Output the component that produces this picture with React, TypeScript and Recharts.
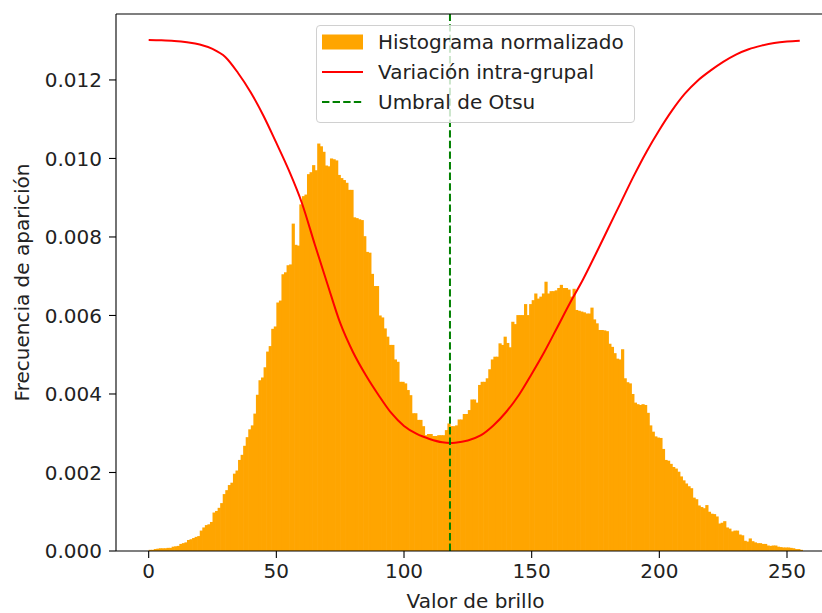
import React from 'react';
import { ComposedChart, Bar, Line, XAxis, YAxis, ReferenceLine, Legend } from 'recharts';

// Histogram: 256 bins of width 1 starting at 0 (normalized frequency)
const binStart = 0;
const binWidth = 1;
const histValues = [
  0.00003, 0.00003, 0.00005, 0.00006, 0.00007, 0.00007, 0.00007, 0.00008, 0.00008, 0.00011,
  0.00012, 0.00013, 0.00018, 0.0002, 0.00022, 0.00028, 0.0003, 0.00033, 0.00036, 0.00038,
  0.00052, 0.0006, 0.00066, 0.00068, 0.00074, 0.00098, 0.00102, 0.0011, 0.00122, 0.00145,
  0.00155, 0.00168, 0.00174, 0.00197, 0.00205, 0.00232, 0.00245, 0.00268, 0.0029, 0.0031,
  0.0032, 0.0035, 0.00398, 0.00435, 0.00442, 0.00468, 0.00508, 0.00522, 0.00566, 0.00572,
  0.00633, 0.00638, 0.00705, 0.0071, 0.00728, 0.0073, 0.00834, 0.0078, 0.00778, 0.00883,
  0.00904, 0.00908, 0.0096, 0.00965, 0.00983, 0.0097, 0.01038, 0.01031, 0.01017, 0.00982,
  0.0098, 0.01, 0.00998, 0.00995, 0.00958, 0.0095, 0.00945, 0.00938, 0.0092, 0.0092,
  0.0085, 0.00848, 0.00845, 0.00843, 0.00802, 0.00762, 0.0076, 0.00706, 0.00675, 0.00675,
  0.006, 0.00595, 0.00567, 0.00546, 0.00525, 0.00525, 0.00488, 0.00482, 0.00431, 0.00431,
  0.00427, 0.0041, 0.00397, 0.00351, 0.00351, 0.00334, 0.00334, 0.00318, 0.00295, 0.00298,
  0.00298, 0.00293, 0.00293, 0.00295, 0.00295, 0.00295, 0.00308, 0.00325, 0.00318, 0.00318,
  0.0032, 0.00335, 0.00335, 0.00349, 0.00349, 0.00359, 0.00386, 0.00386, 0.00378, 0.00423,
  0.00431, 0.00431, 0.0044, 0.00463, 0.00488, 0.00495, 0.00495, 0.00529, 0.00525, 0.00546,
  0.0053, 0.00519, 0.00584, 0.00578, 0.00601, 0.00601, 0.00601, 0.00629, 0.00601, 0.00629,
  0.00639, 0.00656, 0.00643, 0.00648, 0.00656, 0.00686, 0.00656, 0.00662, 0.00662, 0.00664,
  0.0067, 0.00678, 0.0067, 0.0067, 0.00666, 0.00648, 0.00668, 0.00614, 0.00612, 0.0061,
  0.00608, 0.00605, 0.00605, 0.0062, 0.0059, 0.0058, 0.00563, 0.00563, 0.00562, 0.0056,
  0.00528, 0.0052, 0.00504, 0.0049, 0.00488, 0.00514, 0.0044, 0.0043, 0.00427, 0.004,
  0.00378, 0.00374, 0.00372, 0.00374, 0.00372, 0.00352, 0.0032, 0.00304, 0.00292, 0.00289,
  0.00288, 0.0026, 0.00232, 0.0023, 0.00222, 0.00214, 0.0021, 0.00202, 0.0019, 0.0018,
  0.00172, 0.00165, 0.0016, 0.00136, 0.00132, 0.00116, 0.00112, 0.00109, 0.00117, 0.001,
  0.00095, 0.00094, 0.00088, 0.0007, 0.00072, 0.00076, 0.0006, 0.00057, 0.0005, 0.00052,
  0.00052, 0.00042, 0.0004, 0.00026, 0.00024, 0.00032, 0.00025, 0.00022, 0.0002, 0.0002,
  0.00018, 0.00018, 0.00014, 0.00013, 0.00014, 0.00014, 0.00011, 0.0001, 0.00009, 0.00009,
  0.00009, 0.00008, 0.00007, 0.00005, 0.00005, 0.00003,
];

// Within-class variance curve (scaled), read at sample brightness values
const curveX = [
  0, 5, 10, 15, 20, 25, 30, 35, 40, 45, 50, 55, 60, 65, 70, 75, 80, 85, 90, 95, 100, 105, 110,
  115, 118, 120, 125, 130, 135, 140, 145, 150, 155, 160, 165, 170, 175, 180, 185, 190, 195, 200,
  205, 210, 215, 220, 225, 230, 235, 240, 245, 250, 255,
];
const curveY = [
  0.013019, 0.013011, 0.012994, 0.01296, 0.012904, 0.01279, 0.012586, 0.012178, 0.011682,
  0.011083, 0.010395, 0.009682, 0.008866, 0.007822, 0.006803, 0.005809, 0.00507, 0.004484,
  0.003975, 0.003516, 0.003185, 0.002981, 0.002854, 0.002769, 0.002752, 0.002759, 0.002815,
  0.002943, 0.003197, 0.003541, 0.003975, 0.00451, 0.005076, 0.005694, 0.006318, 0.006904,
  0.007554, 0.008221, 0.008889, 0.009556, 0.010173, 0.010726, 0.011225, 0.011651, 0.011982,
  0.012237, 0.012461, 0.012647, 0.012782, 0.012874, 0.012943, 0.012981, 0.013001,
];

const otsuThreshold = 118;

const xTicks = [0, 50, 100, 150, 200, 250];
const yTicks = [0, 0.002, 0.004, 0.006, 0.008, 0.01, 0.012];
const xDomain = [-12.8, 268.8];
const yDomain = [0, 0.01368];

const legendLabels = ['Histograma normalizado', 'Variación intra-grupal', 'Umbral de Otsu'];
const xLabel = 'Valor de brillo';
const yLabel = 'Frecuencia de aparición';

const histData = histValues.map((v, i) => ({ x: binStart + (i + 0.5) * binWidth, h: v }));
const curveData = curveX.map((x, i) => ({ x, v: curveY[i] }));

const FONT = '"DejaVu Sans", sans-serif';
const TEXT = '#222';
const ORANGE = '#FFA500';
const RED = '#FF0000';
const GREEN = '#008000';

const tickStyle = { fontSize: 20, fill: TEXT, fontFamily: FONT };

const LegendBox = () => {
  const rows = [42 - 25, 72 - 25, 102 - 25];
  return (
    <div
      style={{
        position: 'relative',
        width: 319,
        height: 98,
        boxSizing: 'border-box',
        border: '1px solid #d0d0d0',
        borderRadius: 4,
        background: 'rgba(255,255,255,0.8)',
        fontFamily: FONT,
        fontSize: 20,
        color: TEXT,
      }}
    >
      <svg width={319} height={98} style={{ position: 'absolute', left: -1, top: -1 }}>
        <rect x={6} y={rows[0] - 7.5} width={41} height={15} fill={ORANGE} />
        <line x1={6} x2={47} y1={rows[1]} y2={rows[1]} stroke={RED} strokeWidth={2} />
        <line x1={6} x2={47} y1={rows[2]} y2={rows[2]} stroke={GREEN} strokeWidth={2} strokeDasharray="7.4 3.2" />
        {legendLabels.map((l, i) => (
          <text key={l} x={62} y={rows[i]} dy="0.36em" fontSize={20} fontFamily={FONT} fill={TEXT}>
            {l}
          </text>
        ))}
      </svg>
    </div>
  );
};

const YLabel = (props: any) => {
  const vb = props.viewBox || {};
  const cx = (vb.x || 0) + 29;
  const cy = (vb.y || 0) + (vb.height || 0) / 2;
  return (
    <text x={cx} y={cy} transform={`rotate(-90, ${cx}, ${cy})`} textAnchor="middle" fontSize={20} fontFamily={FONT} fill={TEXT}>
      {yLabel}
    </text>
  );
};

const XLabel = (props: any) => {
  const vb = props.viewBox || {};
  const cx = (vb.x || 0) + (vb.width || 0) / 2;
  const cy = (vb.y || 0) + 57;
  return (
    <text x={cx} y={cy} textAnchor="middle" fontSize={20} fontFamily={FONT} fill={TEXT}>
      {xLabel}
    </text>
  );
};

const HistBar = (p: any) => (
  <rect x={p.x} y={p.y} width={Math.max(0, p.width + 0.7)} height={Math.max(0, p.height)} fill={ORANGE} />
);

export default function App() {
  return (
    <div style={{ position: 'absolute', left: 0, top: 0, width: 822, height: 613, overflow: 'hidden', background: '#fff' }}>
      <ComposedChart
        width={835}
        height={613}
        data={histData}
        margin={{ top: 14, right: 0, bottom: 0, left: 0 }}
        barCategoryGap={0}
        barGap={0}
        style={{ fontFamily: FONT }}
      >
        <XAxis
          xAxisId="main"
          dataKey="x"
          type="number"
          domain={xDomain}
          ticks={xTicks}
          allowDataOverflow
          height={62}
          tick={tickStyle}
          tickSize={7}
          tickMargin={6}
          stroke="#000"
          axisLine={{ stroke: '#000', strokeWidth: 1.1 }}
          tickLine={{ stroke: '#000', strokeWidth: 1.1 }}
          label={<XLabel />}
        />
        <XAxis
          xAxisId="curve"
          dataKey="x"
          type="number"
          domain={xDomain}
          allowDataOverflow
          height={0}
          hide
        />
        <YAxis
          type="number"
          domain={yDomain}
          ticks={yTicks}
          allowDataOverflow
          width={116}
          tick={tickStyle}
          tickFormatter={(v: number) => v.toFixed(3)}
          tickSize={7}
          tickMargin={7}
          axisLine={{ stroke: '#000', strokeWidth: 1.1 }}
          tickLine={{ stroke: '#000', strokeWidth: 1.1 }}
          label={<YLabel />}
        />
        <Bar
          xAxisId="main"
          dataKey="h"
          fill={ORANGE}
          barSize={2.5}
          shape={<HistBar />}
          isAnimationActive={false}
        />
        <Line
          xAxisId="curve"
          data={curveData}
          dataKey="v"
          type="monotone"
          stroke={RED}
          strokeWidth={2}
          dot={false}
          activeDot={false}
          isAnimationActive={false}
        />
        <ReferenceLine xAxisId="main" x={otsuThreshold} stroke={GREEN} strokeWidth={2} strokeDasharray="7.4 3.2" />
        <ReferenceLine xAxisId="main" y={yDomain[1]} stroke="#000" strokeWidth={1.1} />
        <Legend
          layout="vertical"
          verticalAlign="middle"
          align="center"
          wrapperStyle={{ left: 316, top: 25, width: 319, height: 98 }}
          content={() => <LegendBox />}
        />
      </ComposedChart>
    </div>
  );
}
